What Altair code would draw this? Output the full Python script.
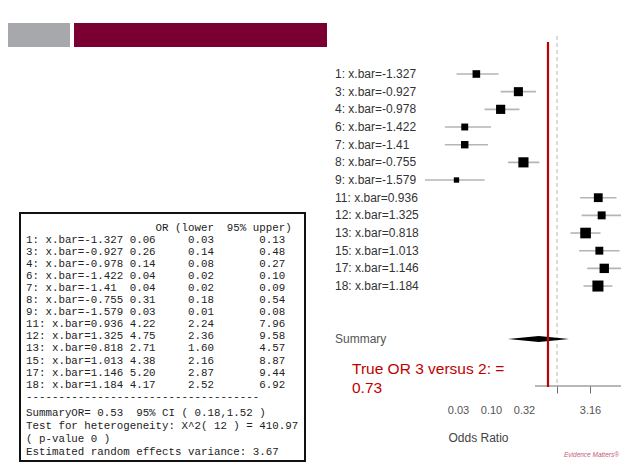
import math
import altair as alt
import pandas as pd

# ---------------- data ----------------
study_ids = [1, 3, 4, 6, 7, 8, 9, 11, 12, 13, 15, 17, 18]
x_bar = ["-1.327", "-0.927", "-0.978", "-1.422", "-1.41", "-0.755", "-1.579",
         "0.936", "1.325", "0.818", "1.013", "1.146", "1.184"]
odds_ratio = [0.06, 0.26, 0.14, 0.04, 0.04, 0.31, 0.03, 4.22, 4.75, 2.71, 4.38, 5.20, 4.17]
ci_lower = [0.03, 0.14, 0.08, 0.02, 0.02, 0.18, 0.01, 2.24, 2.36, 1.60, 2.16, 2.87, 2.52]
ci_upper = [0.13, 0.48, 0.27, 0.10, 0.09, 0.54, 0.08, 7.96, 9.58, 4.57, 8.87, 9.44, 6.92]
summary_or = 0.53
summary_lower = 0.18
summary_upper = 1.52
het_chi2 = 410.97
het_df = 12
het_p = 0
re_variance = 3.67
true_or = 0.73
axis_ticks = [0.0316, 0.1, 0.316, 1.0, 3.16, 10.0]

# ---------------- layout (slide pixel coordinates) ----------------
OX, OY = 420, 36          # plot-area origin on the slide
W, H = 201, 350           # plot-area size
PAGE = 8                  # page margin
TOTAL_W, TOTAL_H = 613, 455
X_ONE, PX_DEC = 557, 66   # x of OR=1 and pixels per decade
ROW0, ROW_STEP = 74, 17.67
SUMMARY_ROW = 15
CHAR_W = 10.8 * 0.6       # monospace advance

x_lo = 10 ** ((OX - X_ONE) / PX_DEC)
x_hi = 10 ** ((OX + W - X_ONE) / PX_DEC)
y_top = (OY - ROW0) / ROW_STEP
y_bot = (OY + H - ROW0) / ROW_STEP


def px(x):
    return x - OX


def py(y):
    return y - OY


xscale = alt.Scale(type="log", domain=[x_lo, x_hi], nice=False)
yscale = alt.Scale(domain=[y_top, y_bot], reverse=True, nice=False, zero=False)

xaxis = alt.Axis(
    values=axis_ticks, grid=False, domain=False,
    labelExpr="(datum.value < 0.9 || (datum.value > 2 && datum.value < 5)) ? format(datum.value, '.2f') : ''",
    tickOpacity={"condition": {"test": "datum.value > 0.9", "value": 1}, "value": 0},
    tickColor="#707070", tickWidth=1, tickSize=7,
    labelPadding=11, labelFont="Liberation Sans", labelFontSize=11, labelColor="#555555",
    labelFlush=False, labelOverlap=False,
    title="Odds Ratio", titleFont="Liberation Sans", titleFontSize=12,
    titleFontWeight="normal", titleColor="#444444",
    titleX=478 - OX, titleY=437 - 386, titleBaseline="middle", titleAlign="center",
)


def X(field):
    return alt.X(field, type="quantitative", scale=xscale, axis=xaxis)


def Y(field):
    return alt.Y(field, type="quantitative", scale=yscale, axis=None)


# study table
weights = [(2 * 1.96 / math.log(u / l)) ** 2 for l, u in zip(ci_lower, ci_upper)]
labels = [f"{s}: x.bar={b}" for s, b in zip(study_ids, x_bar)]
studies = pd.DataFrame({
    "row": list(range(len(study_ids))),
    "label": labels,
    "or": odds_ratio,
    "lower": ci_lower,
    "upper": ci_upper,
    "weight": weights,
})
label_df = pd.DataFrame({
    "row": list(range(len(study_ids))) + [SUMMARY_ROW],
    "label": labels + ["Summary"],
    "shade": ["#333333"] * len(study_ids) + ["#555555"],
})
half = 0.17
diamond = pd.DataFrame({
    "x": [summary_lower, summary_or, summary_upper],
    "y0": [SUMMARY_ROW, SUMMARY_ROW - half, SUMMARY_ROW],
    "y1": [SUMMARY_ROW, SUMMARY_ROW + half, SUMMARY_ROW],
})
null_line = pd.DataFrame({"x": [1.0], "y0": [y_top], "y1": [y_bot]})
true_line = pd.DataFrame({"x": [true_or], "y0": [(42 - ROW0) / ROW_STEP], "y1": [y_bot + 0.05]})
axis_line = pd.DataFrame({"x0": [10 ** ((535 - X_ONE) / PX_DEC)], "x1": [x_hi], "y": [y_bot]})
one = pd.DataFrame({"a": [0]})

# printed R output
NB = "\u00a0"
head = "OR (lower  95% upper)"
table_lines = []
for lab, o, l, u in zip(labels, odds_ratio, ci_lower, ci_upper):
    table_lines.append(f"{lab:<16}{o:.2f}     {l:.2f}       {u:.2f}")
table_lines.append("-" * 36)
summary_lines = [
    f"SummaryOR= {summary_or:.2f}  95% CI ( {summary_lower:.2f},{summary_upper:.2f} )",
    f"Test for heterogeneity: X^2( {het_df} ) = {het_chi2:.2f}",
    f"( p-value {het_p} )",
    f"Estimated random effects variance: {re_variance:.2f}",
]
head_text = pd.DataFrame({"t": [head.replace(" ", NB)]})
table_text = pd.DataFrame({"t": ["\n".join(table_lines).replace(" ", NB)]})
summary_text = pd.DataFrame({"t": ["\n".join(summary_lines).replace(" ", NB)]})
red_text = pd.DataFrame({"t": [f"True OR 3 versus 2: =\n{true_or:.2f}"]})

mono = dict(align="left", baseline="top", font="Liberation Mono", fontSize=10.8, color="#222222")

# ---------------- layers ----------------
gray_bar = alt.Chart(one).mark_rect(color="#a7a8ac").encode(
    x=alt.value(px(6)), x2=alt.value(px(70)), y=alt.value(py(23)), y2=alt.value(py(47)))
maroon_bar = alt.Chart(one).mark_rect(color="#7a0034").encode(
    x=alt.value(px(74)), x2=alt.value(px(327)), y=alt.value(py(23)), y2=alt.value(py(47)))
table_box = alt.Chart(one).mark_rect(fill="white", stroke="#111111", strokeWidth=2).encode(
    x=alt.value(px(20)), x2=alt.value(px(305)), y=alt.value(py(213)), y2=alt.value(py(461)))
head_txt = alt.Chart(head_text).mark_text(**mono).encode(
    x=alt.value(px(26 + 20 * CHAR_W)), y=alt.value(py(221.5)), text="t:N")
table_txt = alt.Chart(table_text).mark_text(lineBreak="\n", lineHeight=12.1, **mono).encode(
    x=alt.value(px(26)), y=alt.value(py(221.5 + 12.1)), text="t:N")
summary_txt = alt.Chart(summary_text).mark_text(lineBreak="\n", lineHeight=13, **mono).encode(
    x=alt.value(px(26)), y=alt.value(py(406.5)), text="t:N")

null_rule = alt.Chart(null_line).mark_rule(color="#c4c4c4", strokeWidth=1.2, strokeDash=[4, 3]).encode(
    x=X("x"), y=Y("y0"), y2="y1")
ci_rules = alt.Chart(studies).mark_rule(color="#b5b5b5", strokeWidth=1.6).encode(
    x=X("lower"), x2="upper", y=Y("row"))
boxes = alt.Chart(studies).mark_square(color="black", opacity=1).encode(
    x=X("or"), y=Y("row"),
    size=alt.Size("weight:Q", scale=alt.Scale(domain=[0, 20], range=[0, 162]), legend=None))
diamond_area = alt.Chart(diamond).mark_area(color="black", orient="vertical").encode(
    x=X("x"), y=Y("y0"), y2="y1")
axis_rule = alt.Chart(axis_line).mark_rule(color="#707070", strokeWidth=1).encode(
    x=X("x0"), x2="x1", y=Y("y"))
true_rule = alt.Chart(true_line).mark_rule(color="#c00000", strokeWidth=2.2).encode(
    x=X("x"), y=Y("y0"), y2="y1")
row_labels = alt.Chart(label_df).mark_text(
    align="left", baseline="middle", font="Liberation Sans", fontSize=12).encode(
    x=alt.value(px(335)), y=Y("row"), text="label:N",
    color=alt.Color("shade:N", scale=None))
red_txt = alt.Chart(red_text).mark_text(
    align="left", baseline="top", font="Liberation Sans", fontSize=15.5,
    lineBreak="\n", lineHeight=19, color="#c00000").encode(
    x=alt.value(px(352)), y=alt.value(py(362)), text="t:N")
footer = alt.Chart(one).mark_text(
    align="right", baseline="middle", font="Liberation Sans", fontSize=6.5, fontStyle="italic",
    color="#c85a7c").encode(
    x=alt.value(px(619)), y=alt.value(py(455)), text=alt.value("Evidence Matters\u00ae"))

chart = alt.layer(
    gray_bar, maroon_bar, table_box, head_txt, table_txt, summary_txt,
    null_rule, ci_rules, boxes, diamond_area, axis_rule, true_rule,
    row_labels, red_txt, footer,
).properties(
    width=W, height=H,
    autosize=alt.AutoSizeParams(type="none"),
    padding={"left": OX - PAGE, "top": OY - PAGE,
             "right": TOTAL_W - (OX - PAGE) - W,
             "bottom": TOTAL_H - (OY - PAGE) - H},
).configure(background="white", view=alt.ViewConfig(stroke=None))

chart.save("out.html", embed_options={"renderer": "svg", "actions": False})
